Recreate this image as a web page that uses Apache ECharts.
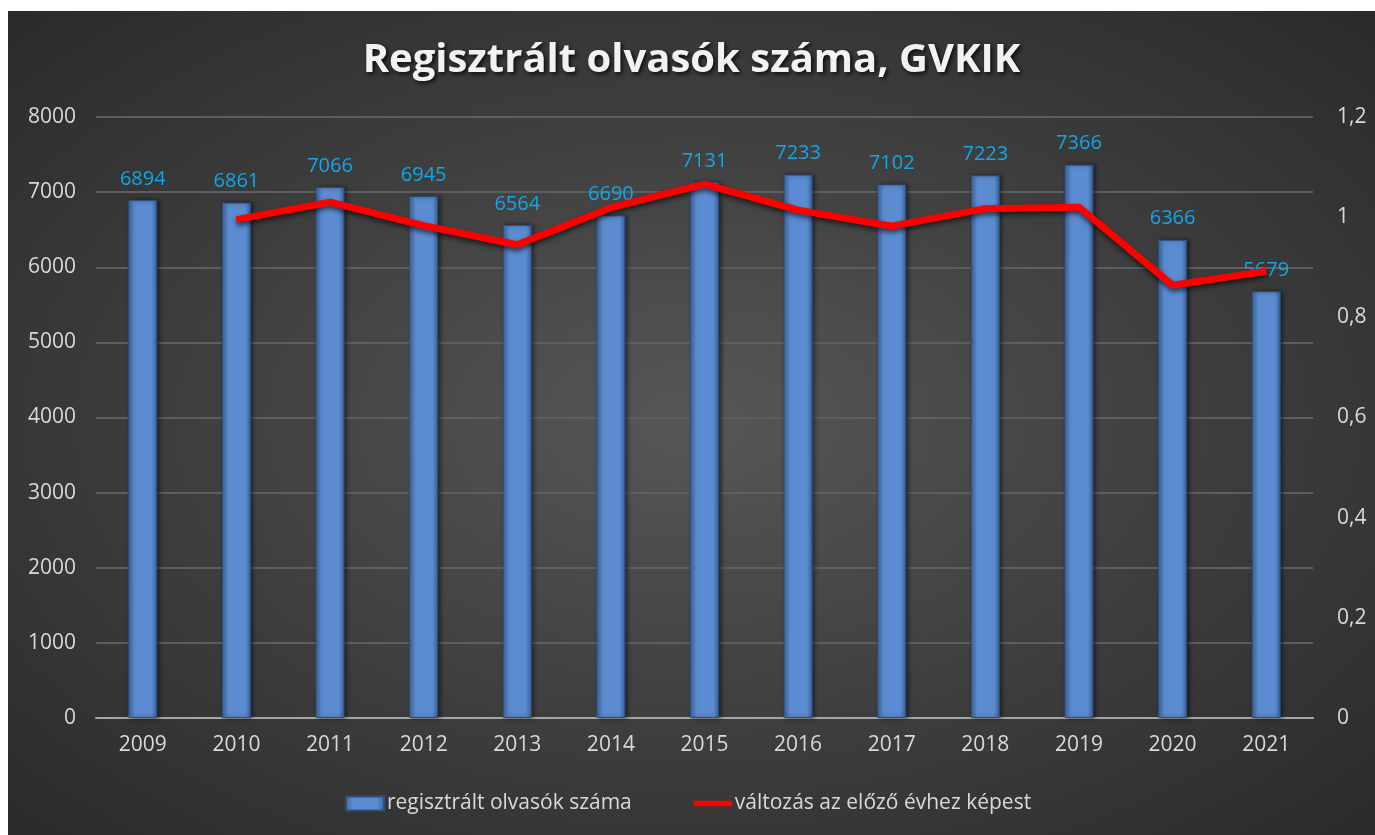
<!DOCTYPE html>
<html>
<head>
<meta charset="utf-8">
<script src="https://cdn.jsdelivr.net/npm/echarts@6/dist/echarts.min.js"></script>
<style>
  html, body { margin: 0; padding: 0; background: #fff; }
  #chart {
    position: absolute;
    left: 8px;
    top: 11px;
    width: 1367px;
    height: 824px;
    background: radial-gradient(ellipse at 50% 50%, #575757 0%, #3d3d3d 55%, #2a2a2a 100%);
  }
</style>
</head>
<body>
<div id="chart"></div>
<script>
const years = ["2009", "2010", "2011", "2012", "2013", "2014", "2015", "2016", "2017", "2018", "2019", "2020", "2021"]
const readers = [6894, 6861, 7066, 6945, 6564, 6690, 7131, 7233, 7102, 7223, 7366, 6366, 5679]
const change = [null, 0.995, 1.030, 0.983, 0.945, 1.019, 1.066, 1.014, 0.982, 1.017, 1.020, 0.864, 0.892]

const font = "'Open Sans', 'Noto Sans', sans-serif"
const axisText = { color: "#d9d9d9", fontSize: 21, fontFamily: font }

const chart = echarts.init(document.getElementById("chart"), null, { renderer: "canvas" })

chart.setOption({
  backgroundColor: "transparent",
  animation: false,
  title: {
    text: "Regisztrált olvasók száma, GVKIK",
    left: "center",
    top: 25,
    textStyle: {
      color: "#f2f2f2",
      fontSize: 40,
      fontWeight: "bold",
      fontFamily: font,
      textShadowColor: "rgba(0,0,0,0.8)",
      textShadowBlur: 4,
      textShadowOffsetX: 2,
      textShadowOffsetY: 2
    }
  },
  legend: {
    bottom: 16,
    left: 332,
    itemGap: 62,
    itemWidth: 38,
    itemHeight: 14,
    textStyle: { color: "#d9d9d9", fontSize: 21, fontFamily: font, padding: [0, 0, 0, -2] },
    data: [
      { name: "regisztrált olvasók száma", icon: "rect" },
      { name: "változás az előző évhez képest", icon: "path://M0,0 L40,0 L40,6 L0,6 Z", itemStyle: { color: "#ff0000" } }
    ]
  },
  grid: { left: 88, right: 62, top: 106, bottom: 117 },
  xAxis: {
    type: "category",
    data: years,
    axisTick: { show: false },
    axisLine: { lineStyle: { color: "#a6a6a6", width: 2 } },
    axisLabel: { ...axisText, margin: 17 }
  },
  yAxis: [
    {
      type: "value",
      min: 0,
      max: 8000,
      interval: 1000,
      axisLabel: { ...axisText, margin: 20, formatter: v => String(v) },
      splitLine: { lineStyle: { color: "#5e5e5e", width: 2 } },
      axisLine: { show: false },
      axisTick: { show: false }
    },
    {
      type: "value",
      min: 0,
      max: 1.2,
      interval: 0.2,
      axisLabel: {
        ...axisText,
        margin: 24,
        formatter: v => (Math.round(v * 10) / 10).toString().replace(".", ",")
      },
      splitLine: { show: false },
      axisLine: { show: false },
      axisTick: { show: false }
    }
  ],
  series: [
    {
      name: "regisztrált olvasók száma",
      type: "bar",
      data: readers,
      barWidth: 29,
      itemStyle: {
        color: new echarts.graphic.LinearGradient(0, 0, 1, 0, [
          { offset: 0, color: "#3e6aa3" },
          { offset: 0.2, color: "#5b8bd0" },
          { offset: 0.8, color: "#5b8bd0" },
          { offset: 1, color: "#3a629a" }
        ]),
        borderColor: "#2f4f7a",
        borderWidth: 1,
        shadowColor: "rgba(0,0,0,0.5)",
        shadowBlur: 4,
        shadowOffsetX: 2
      },
      label: {
        show: true,
        position: "top",
        distance: 11,
        color: "#12a7e6",
        fontSize: 20,
        fontFamily: font
      }
    },
    {
      name: "változás az előző évhez képest",
      type: "line",
      yAxisIndex: 1,
      data: change,
      symbol: "none",
      lineStyle: {
        color: "#ff0000",
        width: 7,
        shadowColor: "rgba(0,0,0,0.6)",
        shadowBlur: 5,
        shadowOffsetY: 3
      },
      itemStyle: { color: "#ff0000" },
      z: 5
    }
  ]
})
</script>
</body>
</html>
